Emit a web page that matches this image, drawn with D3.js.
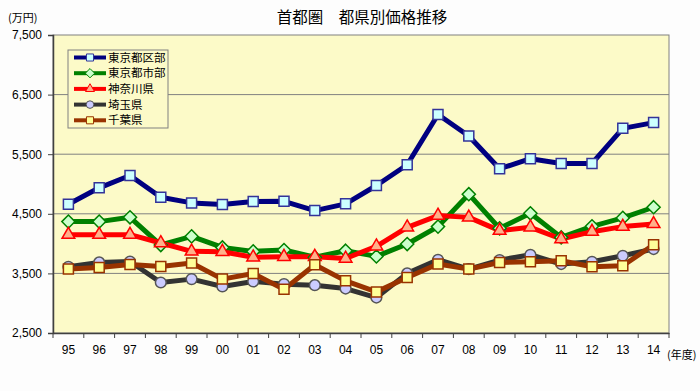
<!DOCTYPE html>
<html>
<head>
<meta charset="utf-8">
<script src="https://cdn.jsdelivr.net/npm/d3@7"></script>
<style>
  body { margin: 0; background: #fdfdfd; }
  text { font-family: "Noto Sans CJK JP", "Liberation Sans", sans-serif; fill: #000; }
</style>
</head>
<body>
<svg id="chart" width="700" height="391"></svg>
<script>
const years = ["95","96","97","98","99","00","01","02","03","04","05","06","07","08","09","10","11","12","13","14"];
const yTicks = [2500, 3500, 4500, 5500, 6500, 7500];

const tokyoKu   = [4660, 4936, 5143, 4778, 4683, 4655, 4705, 4710, 4554, 4667, 4975, 5323, 6165, 5805, 5256, 5424, 5345, 5345, 5934, 6030];
const tokyoShi  = [4369, 4369, 4441, 3976, 4121, 3936, 3869, 3892, 3770, 3880, 3785, 3993, 4285, 4829, 4256, 4508, 4104, 4290, 4431, 4610];
const kanagawa  = [4150, 4150, 4150, 4010, 3870, 3864, 3770, 3780, 3780, 3750, 3955, 4273, 4470, 4440, 4217, 4273, 4077, 4200, 4285, 4330];
const saitama   = [3611, 3684, 3700, 3347, 3404, 3280, 3364, 3320, 3303, 3246, 3095, 3500, 3729, 3572, 3723, 3813, 3657, 3695, 3796, 3909];
const chiba     = [3572, 3600, 3650, 3616, 3673, 3404, 3499, 3232, 3645, 3375, 3190, 3432, 3657, 3572, 3684, 3695, 3712, 3611, 3628, 3981];

const SERIES = [
    { name: "東京都区部", values: tokyoKu,  line: "#000080", fill: "#CCFFFF", stroke: "#333399", symbol: d3.symbolSquare,   size: 100 },
    { name: "東京都市部", values: tokyoShi, line: "#008000", fill: "#CCFFCC", stroke: "#008000", symbol: d3.symbolDiamond2, size: 110 },
    { name: "神奈川県",   values: kanagawa, line: "#FF0000", fill: "#FFB08A", stroke: "#FF0000", symbol: d3.symbolTriangle, size: 70 },
    { name: "埼玉県",     values: saitama,  line: "#333333", fill: "#CCCCFF", stroke: "#555555", symbol: d3.symbolCircle,   size: 90 },
    { name: "千葉県",     values: chiba,    line: "#993300", fill: "#FFFF99", stroke: "#993300", symbol: d3.symbolSquare,   size: 100 }
];

const margin = { left: 53, right: 31, top: 35, bottom: 58 };
const width = 700, height = 391;
const svg = d3.select("#chart");

const x = d3.scaleBand().domain(years).range([margin.left, width - margin.right]);
const y = d3.scaleLinear().domain([2500, 7500]).range([height - margin.bottom, margin.top]);

// plot area
svg.append("rect")
    .attr("x", margin.left).attr("y", margin.top)
    .attr("width", width - margin.left - margin.right)
    .attr("height", height - margin.top - margin.bottom)
    .attr("fill", "#FCFAC8")
    .attr("stroke", "#808080");

// gridlines
svg.append("g").selectAll("line")
    .data(yTicks.slice(1, -1))
    .enter().append("line")
    .attr("x1", margin.left).attr("x2", width - margin.right)
    .attr("y1", d => y(d)).attr("y2", d => y(d))
    .attr("stroke", "#808080");

// y axis
const yAxis = svg.append("g")
    .attr("transform", "translate(" + margin.left + ",0)")
    .call(d3.axisLeft(y).tickValues(yTicks).tickFormat(d3.format(",")).tickSize(5).tickPadding(6));
yAxis.select(".domain").attr("stroke", "#404040").attr("stroke-width", 1.5);
yAxis.selectAll(".tick line").attr("stroke", "#404040");
yAxis.selectAll("text").attr("font-size", 12).style("font-family", "Liberation Sans");

// x axis
const xAxis = svg.append("g")
    .attr("transform", "translate(0," + (height - margin.bottom) + ")")
    .call(d3.axisBottom(x).tickSize(0).tickPadding(12));
xAxis.select(".domain").attr("stroke", "#404040").attr("stroke-width", 1.5);
xAxis.selectAll("text").attr("font-size", 12).style("font-family", "Liberation Sans");
xAxis.selectAll(".sep")
    .data(d3.range(years.length + 1))
    .enter().append("line")
    .attr("x1", i => margin.left + i * x.step()).attr("x2", i => margin.left + i * x.step())
    .attr("y1", 0).attr("y2", 5)
    .attr("stroke", "#404040");

// lines and markers
const line = d3.line()
    .x((d, i) => x(years[i]) + x.bandwidth() / 2)
    .y(d => y(d));

SERIES.forEach(s => {
    svg.append("path")
        .datum(s.values)
        .attr("d", line)
        .attr("fill", "none")
        .attr("stroke", s.line)
        .attr("stroke-width", 5)
        .attr("stroke-linejoin", "round");
});

SERIES.forEach(s => {
    svg.append("g").selectAll("path")
        .data(s.values)
        .enter().append("path")
        .attr("transform", (d, i) => "translate(" + (x(years[i]) + x.bandwidth() / 2) + "," + y(d) + ")")
        .attr("d", d3.symbol().type(s.symbol).size(s.size))
        .attr("fill", s.fill)
        .attr("stroke", s.stroke)
        .attr("stroke-width", 1.5);
});

// legend
const legend = svg.append("g").attr("transform", "translate(68,50)");
legend.append("rect")
    .attr("width", 100).attr("height", 78)
    .attr("fill", "#FCFAC8").attr("stroke", "#808080");
SERIES.forEach((s, i) => {
    const g = legend.append("g").attr("transform", "translate(0," + (7.5 + i * 15.7) + ")");
    g.append("line").attr("x1", 6).attr("x2", 38).attr("y1", 0).attr("y2", 0)
        .attr("stroke", s.line).attr("stroke-width", 4);
    g.append("path").attr("transform", "translate(22,0)")
        .attr("d", d3.symbol().type(s.symbol).size(s.size * 0.5))
        .attr("fill", s.fill).attr("stroke", s.stroke).attr("stroke-width", 1);
    g.append("text").attr("x", 40).attr("y", 0).attr("dy", "0.35em")
        .attr("font-size", 11.5).text(s.name);
});

// titles
svg.append("text").attr("x", 362).attr("y", 23).attr("text-anchor", "middle")
    .attr("font-size", 15.5).text("首都圏\u3000都県別価格推移");
svg.append("text").attr("x", 8).attr("y", 22).attr("font-size", 11).text("(万円)");
svg.append("text").attr("x", 667).attr("y", 359).attr("font-size", 11).text("(年度)");
</script>
</body>
</html>
